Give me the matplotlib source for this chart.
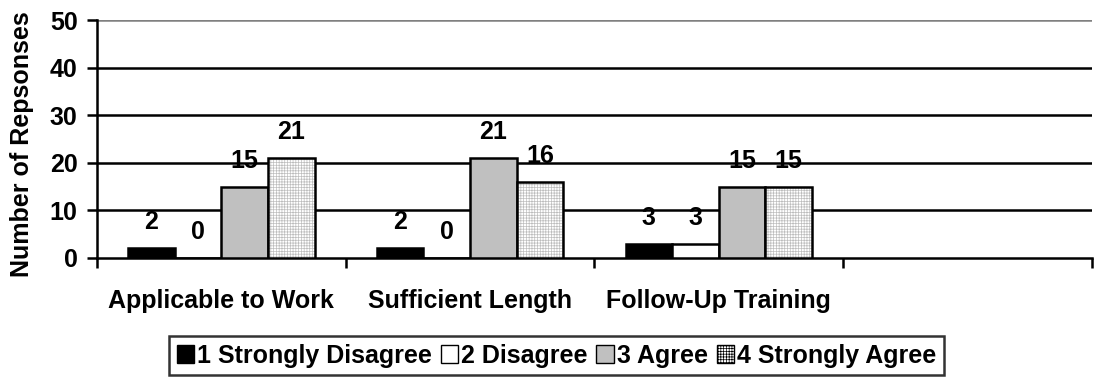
import numpy as np
import matplotlib
matplotlib.use('Agg')
import matplotlib.pyplot as plt

plt.rcParams['font.family'] = ['Liberation Sans', 'DejaVu Sans']
plt.rcParams['font.weight'] = 'bold'
plt.rcParams['hatch.linewidth'] = 0.5
plt.rcParams['hatch.color'] = '#bdbdbd'

categories = ['Applicable to Work', 'Sufficient Length', 'Follow-Up Training']
series_names = ['1 Strongly Disagree', '2 Disagree', '3 Agree', '4 Strongly Agree']
values = {
    '1 Strongly Disagree': [2, 2, 3],
    '2 Disagree': [0, 0, 3],
    '3 Agree': [15, 21, 15],
    '4 Strongly Agree': [21, 16, 15],
}
n_slots = 4  # the chart leaves an empty fourth slot

FS = 18

fig = plt.figure(figsize=(11.13, 3.79), dpi=100)
ax = fig.add_axes([0.0872, 0.3193, 0.8938, 0.6279])

styles = [
    dict(facecolor='black', hatch=None),
    dict(facecolor='white', hatch=None),
    dict(facecolor='#c0c0c0', hatch=None),
    dict(facecolor='white', hatch='++++++'),
]

bar_w = 0.1875
x = np.arange(len(categories)) + 0.5
for i, name in enumerate(series_names):
    offs = (i - 1.5) * bar_w
    st = styles[i]
    if st['hatch']:
        ax.bar(x + offs, values[name], width=bar_w, facecolor=st['facecolor'],
               edgecolor='#bdbdbd', linewidth=0, hatch=st['hatch'], zorder=3)
        ax.bar(x + offs, values[name], width=bar_w, facecolor='none',
               edgecolor='black', linewidth=1.8, zorder=4)
    else:
        ax.bar(x + offs, values[name], width=bar_w, facecolor=st['facecolor'],
               edgecolor='black', linewidth=1.8, zorder=3)
    for xi, v in zip(x + offs, values[name]):
        ax.annotate(str(v), (xi, v), xytext=(0, 26), textcoords='offset pixels',
                    ha='center', va='center', fontsize=FS, fontweight='bold',
                    zorder=5)

ax.set_xlim(0, n_slots)
ax.set_ylim(0, 50)
ax.set_yticks(np.arange(0, 51, 10))
ax.set_xticks(np.arange(0, n_slots + 1))
ax.set_xticklabels([])
ax.set_xticks(x, minor=True)
ax.set_xticklabels(categories, minor=True)
ax.tick_params(axis='x', which='minor', length=0, pad=22, labelsize=FS)
ax.tick_params(axis='x', which='major', length=7, width=1.8, direction='out')
ax.tick_params(axis='y', length=7, width=1.8, labelsize=FS, pad=7)
for t in ax.get_yticklabels() + ax.get_xticklabels(minor=True):
    t.set_fontweight('bold')

for yv in [10, 20, 30, 40]:
    ax.axhline(yv, color='black', linewidth=1.8, zorder=1)
ax.axhline(50, color='#808080', linewidth=1.8, zorder=1)

for s in ['top', 'right']:
    ax.spines[s].set_visible(False)
ax.spines['left'].set_linewidth(1.8)
ax.spines['bottom'].set_linewidth(1.8)

ax.set_ylabel('Number of Repsonses', fontsize=FS, fontweight='bold')
ax.yaxis.set_label_coords(-0.063, 0.48)

handles = [plt.Rectangle((0, 0), 1, 1, facecolor=s['facecolor'], edgecolor='black',
                         hatch=s['hatch'], linewidth=1) for s in styles]
leg = fig.legend(handles, series_names, loc='center', bbox_to_anchor=(0.5, 0.062),
                 ncol=4, frameon=True, fancybox=False, edgecolor='black',
                 prop={'size': FS, 'weight': 'bold'}, handlelength=0.7,
                 handleheight=0.7, handletextpad=0.12, columnspacing=0.35,
                 borderpad=0.3)
leg.get_frame().set_linewidth(1.8)

fig.savefig('out.png', dpi=100)
